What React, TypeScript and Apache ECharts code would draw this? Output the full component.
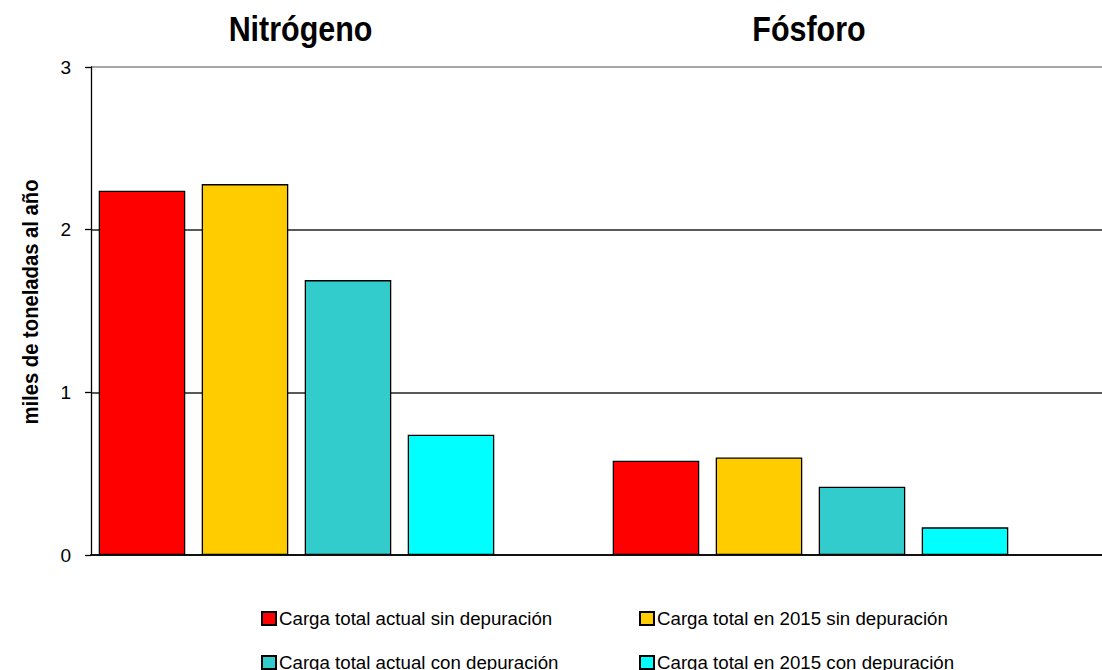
import React, { useEffect, useRef } from "react";
import * as echarts from "echarts";

const categories = ["Nitrógeno", "Fósforo"];
const seriesNames = [
  "Carga total actual sin depuración",
  "Carga total en 2015 sin depuración",
  "Carga total actual con depuración",
  "Carga total en 2015 con depuración",
];
const actualSin = [2.24, 0.58];
const futuroSin = [2.28, 0.6];
const actualCon = [1.69, 0.42];
const futuroCon = [0.74, 0.17];
const seriesValues = [actualSin, futuroSin, actualCon, futuroCon];
const seriesColors = ["#FF0000", "#FFCC00", "#33CCCC", "#00FFFF"];
const yTicks = [0, 1, 2, 3];
const yAxisTitle = "miles de toneladas al año";

const ARIAL = "'Liberation Sans', Arial, sans-serif";

export default function App() {
  const ref = useRef<HTMLDivElement>(null);
  useEffect(() => {
    if (!ref.current) return;
    const chart = echarts.init(ref.current, undefined, { renderer: "svg" });
    const legendPos = [
      { left: 261, top: 609 },
      { left: 639, top: 609 },
      { left: 261, top: 653 },
      { left: 639, top: 653 },
    ];
    const series: any[] = seriesNames.map((name, i) => ({
      name,
      type: "bar",
      data: seriesValues[i],
      barGap: "19%",
      barCategoryGap: "3%",
      itemStyle: { color: seriesColors[i], borderColor: "#000", borderWidth: 1.3 },
    }));
    series.push({
      name: "vacío",
      type: "bar",
      data: categories.map(() => "-"),
      barGap: "19%",
      barCategoryGap: "3%",
    });
    chart.setOption({
      animation: false,
      backgroundColor: "#fff",
      grid: { left: 91, right: 11, top: 67, bottom: 115 },
      xAxis: {
        type: "category",
        data: categories,
        axisLine: { show: true, lineStyle: { color: "#111", width: 2 } },
        axisTick: { show: false },
        axisLabel: { show: false },
      },
      yAxis: {
        type: "value",
        min: yTicks[0],
        max: yTicks[yTicks.length - 1],
        interval: 1,
        axisLine: { show: true, lineStyle: { color: "#000", width: 1.3 } },
        axisTick: { show: true, length: 6, lineStyle: { color: "#000", width: 1.3 } },
        axisLabel: { fontFamily: ARIAL, fontSize: 19, color: "#000", margin: 20 },
        splitLine: { show: true, lineStyle: { color: ["#222", "#222", "#222", "#888"], width: 1.5 } },
      },
      legend: seriesNames.map((name, i) => ({
        data: [name],
        left: legendPos[i].left,
        top: legendPos[i].top,
        icon: "rect",
        itemWidth: 14,
        itemHeight: 13,
        itemGap: 4,
        padding: 0,
        selectedMode: false,
        textStyle: { fontFamily: ARIAL, fontSize: 18.7, color: "#000", padding: [0, 0, 0, -2] },
      })),
      graphic: [
        {
          type: "text",
          x: 300.5,
          y: 11,
          scaleX: 0.87,
          style: {
            text: categories[0],
            fontFamily: ARIAL,
            fontWeight: "bold",
            fontSize: 35,
            fill: "#000",
            align: "center",
            verticalAlign: "top",
          },
        },
        {
          type: "text",
          x: 809,
          y: 11,
          scaleX: 0.87,
          style: {
            text: categories[1],
            fontFamily: ARIAL,
            fontWeight: "bold",
            fontSize: 35,
            fill: "#000",
            align: "center",
            verticalAlign: "top",
          },
        },
        {
          type: "text",
          x: 30,
          y: 302,
          rotation: Math.PI / 2,
          scaleX: 0.92,
          style: {
            text: yAxisTitle,
            fontFamily: ARIAL,
            fontWeight: "bold",
            fontSize: 22,
            fill: "#000",
            align: "center",
            verticalAlign: "middle",
          },
        },
      ],
      series,
    });
    return () => chart.dispose();
  }, []);
  return (
    <div style={{ position: "absolute", left: 0, top: 0, width: 1102, height: 670, overflow: "hidden", background: "#fff" }}>
      <div ref={ref} style={{ width: 1130, height: 670 }} />
    </div>
  );
}
